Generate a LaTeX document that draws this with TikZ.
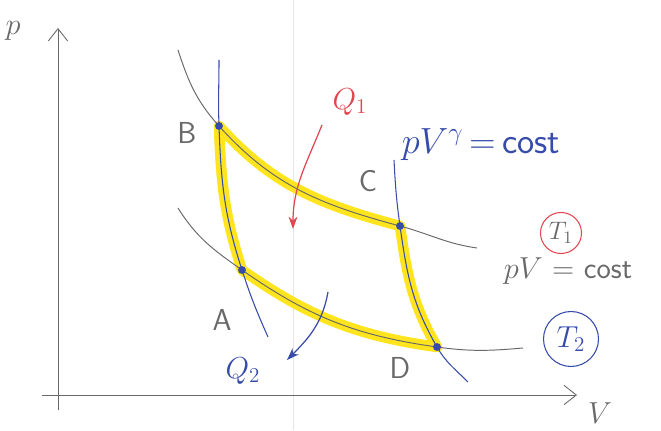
\documentclass[tikz,border=0pt]{standalone}
\usepackage{fontspec}
\usetikzlibrary{arrows.meta}

\definecolor{pen}{RGB}{105,105,105}
\definecolor{ink}{RGB}{55,75,170}
\definecolor{redink}{RGB}{225,70,80}
\definecolor{hilite}{RGB}{255,228,30}

\tikzset{
  axis/.style={draw=pen, line width=0.5pt, -{Straight Barb[length=7pt,width=11pt]}},
  isotherm/.style={draw=pen, line width=0.55pt},
  adiabat/.style={draw=ink, line width=0.6pt},
  cyclepath/.style={draw=hilite, line width=6pt, line join=round, line cap=round},
  pt/.style={circle, fill=ink, inner sep=0pt, minimum size=4.5pt},
  lbl/.style={font=\sffamily\LARGE, text=pen, inner sep=1pt},
  heat/.style={line width=0.7pt, -{Stealth[length=7pt,width=5pt]}},
}

\begin{document}
\begin{tikzpicture}
  \useasboundingbox (0,0) rectangle (13.22,8.6);
  % faint fold of the sheet
  \draw[gray!20, line width=0.4pt] (5.86,0) -- (5.86,8.6);

  % axes
  \coordinate (ybot) at (1.16,0.40);
  \coordinate (ytop) at (1.16,8.04);
  \coordinate (xl) at (0.84,0.70);
  \coordinate (xr) at (11.54,0.70);
  \draw[axis] (ybot) -- (ytop);
  \draw[axis] (xl) -- (xr);
  \node[lbl] (p) at (0.26,7.98) {$p$};
  \node[lbl] (v) at (12.0,0.34) {$V$};

  % corners of the cycle
  \coordinate (B) at (4.38,6.08);
  \coordinate (C) at (8.00,4.08);
  \coordinate (D) at (8.74,1.66);
  \coordinate (A) at (4.84,3.20);
  % loose ends of the curves
  \coordinate (t1s) at (3.56,7.60);
  \coordinate (t1e) at (9.54,3.64);
  \coordinate (t2s) at (3.56,4.44);
  \coordinate (t2e) at (10.46,1.64);
  \coordinate (a1s) at (4.38,7.40);
  \coordinate (a1e) at (5.36,1.86);
  \coordinate (a2s) at (7.88,5.40);
  \coordinate (a2e) at (9.36,0.96);

  % highlighted cycle
  \draw[cyclepath] (B) to[out=-48,in=165] (C) to[out=-82,in=120] (D)
    to[out=172,in=-35] (A) to[out=108,in=-88] (B);

  % isotherms
  \draw[isotherm] (t1s) to[out=-72,in=132] (B) to[out=-48,in=165] (C) to[out=-15,in=172] (t1e);
  \draw[isotherm] (t2s) to[out=-58,in=145] (A) to[out=-35,in=172] (D) to[out=-8,in=185] (t2e);
  % adiabats
  \draw[adiabat] (a1s) to[out=-90,in=92] (B) to[out=-88,in=108] (A) to[out=-72,in=114] (a1e);
  \draw[adiabat] (a2s) to[out=-87,in=98] (C) to[out=-82,in=120] (D) to[out=-60,in=135] (a2e);

  \node[pt] (dB) at (B) {};
  \node[pt] (dC) at (C) {};
  \node[pt] (dD) at (D) {};
  \node[pt] (dA) at (A) {};

  \node[lbl] (lB) at (3.74,5.94) {B};
  \node[lbl] (lC) at (7.36,4.98) {C};
  \node[lbl] (lA) at (4.44,2.20) {A};
  \node[lbl] (lD) at (8.00,1.24) {D};

  % heat exchanged
  \coordinate (q1s) at (6.44,6.10);
  \coordinate (q1e) at (5.86,4.02);
  \draw[heat, redink] (q1s) to[out=-112,in=90] (q1e);
  \node[lbl, text=redink] (q1) at (7.00,6.56) {$Q_1$};
  \coordinate (q2s) at (6.56,2.76);
  \coordinate (q2e) at (5.74,1.40);
  \draw[heat, ink] (q2s) to[out=-100,in=45] (q2e);
  \node[lbl, text=ink] (q2) at (4.86,1.18) {$Q_2$};

  % curve laws
  \node[lbl, text=ink, font=\sffamily\huge] (adlaw) at (9.62,5.70) {$pV^{\gamma}$\,=\,cost};
  \node[lbl, font=\sffamily\Large, draw=redink, circle, inner sep=0pt, minimum size=0.82cm, line width=0.6pt] (T1) at (11.22,3.94) {$T_1$};
  \node[lbl] (isolaw) at (11.36,3.18) {$pV$ = cost};
  \node[lbl, text=ink, draw=ink, circle, inner sep=0pt, minimum size=1.1cm, line width=0.6pt] (T2) at (11.42,1.82) {$T_2$};
\end{tikzpicture}
\end{document}
